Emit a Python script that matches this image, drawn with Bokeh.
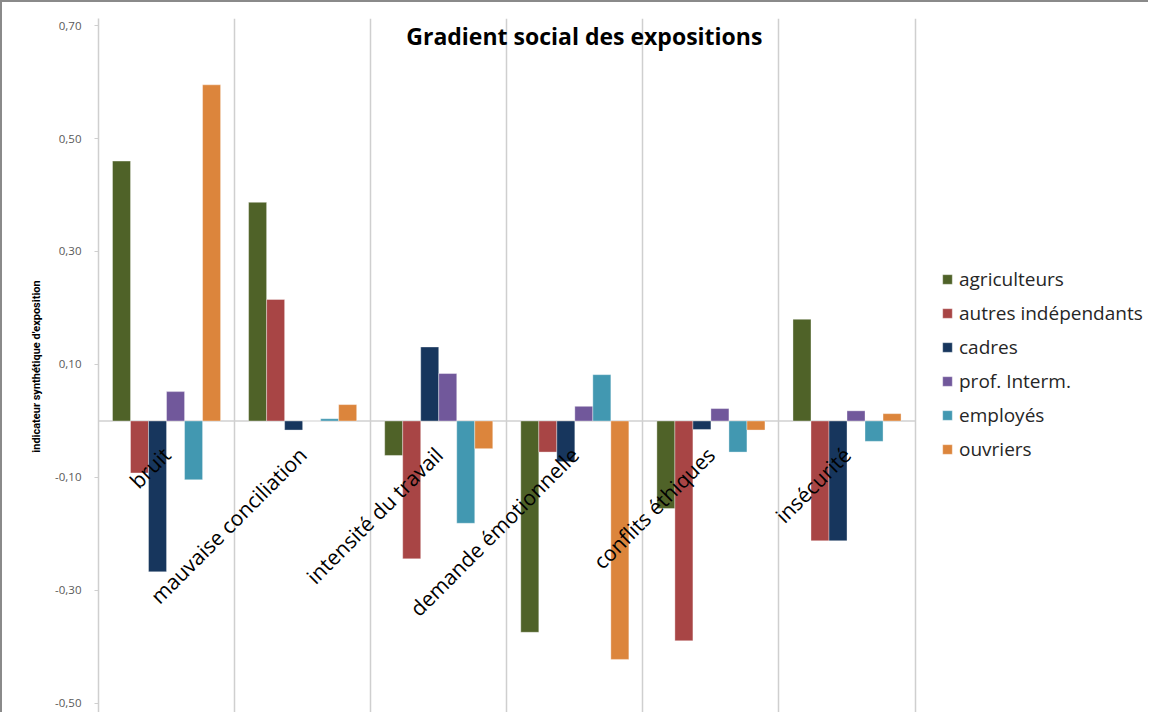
import math
from bokeh.plotting import figure
from bokeh.models import (ColumnDataSource, FixedTicker, Legend, LegendItem,
                          Label)
from bokeh.core.properties import value
from bokeh.embed import file_html
from bokeh.resources import INLINE

# ---- data ----
categories = ["bruit", "mauvaise conciliation", "intensité du travail",
              "demande émotionnelle", "conflits éthiques", "insécurité"]
series_names = ["agriculteurs", "autres indépendants", "cadres",
                "prof. Interm.", "employés", "ouvriers"]
agriculteurs = [0.460, 0.387, -0.061, -0.374, -0.155, 0.180]
autres_independants = [-0.092, 0.215, -0.244, -0.055, -0.389, -0.212]
cadres = [-0.267, -0.016, 0.131, -0.072, -0.015, -0.212]
prof_interm = [0.052, 0.000, 0.084, 0.026, 0.022, 0.018]
employes = [-0.104, 0.004, -0.181, 0.082, -0.055, -0.036]
ouvriers = [0.595, 0.029, -0.049, -0.422, -0.016, 0.013]
series_values = [agriculteurs, autres_independants, cadres, prof_interm,
                 employes, ouvriers]
colors = ["#4F6228", "#A84545", "#17365D", "#71589B", "#4298B1", "#DC853C"]
y_ticks = [-0.5, -0.3, -0.1, 0.1, 0.3, 0.5, 0.7]
y_tick_labels = {t: ("%.2f" % t).replace(".", ",") for t in y_ticks}

FONT = "Open Sans"
ncat = len(categories)

p = figure(width=1148, height=712, output_backend="svg", toolbar_location=None,
           x_range=(0, 7.73), y_range=(-0.5195, 0.7124),
           x_axis_location=None,
           min_border_left=96, min_border_right=0, min_border_top=16,
           min_border_bottom=0)
p.outline_line_color = None
p.background_fill_color = "white"
p.border_fill_color = "white"

# grid: vertical lines at category boundaries only
p.xgrid.ticker = FixedTicker(ticks=list(range(1, ncat + 1)))
p.xgrid.grid_line_color = "#cfcfcf"
p.xgrid.grid_line_width = 1.5
p.ygrid.grid_line_color = None

# y axis
p.yaxis.ticker = FixedTicker(ticks=y_ticks)
p.yaxis.major_label_overrides = y_tick_labels
p.yaxis.major_label_text_font = FONT
p.yaxis.major_label_text_font_size = "11.5px"
p.yaxis.major_label_text_color = "#595959"
p.yaxis.axis_line_color = "#cfcfcf"
p.yaxis.axis_line_width = 1.5
p.yaxis.major_tick_line_color = "#cfcfcf"
p.yaxis.major_tick_out = 4
p.yaxis.major_tick_in = 0
p.yaxis.minor_tick_line_color = None
p.yaxis.major_label_standoff = 13
p.yaxis.axis_label = "indicateur synthétique d'exposition"
p.yaxis.axis_label_text_font = "Roboto"
p.yaxis.axis_label_text_font_style = "bold"
p.yaxis.axis_label_text_font_size = "11px"
p.yaxis.axis_label_text_color = "black"
p.yaxis.axis_label_standoff = 9

# zero line across the categories
p.segment(x0=[0], x1=[ncat], y0=[0], y1=[0], line_color="#d0d0d0",
          line_width=1.5)

# bars
n = len(series_names)
bar_w = 108.0 / 136.0 / n
items = []
for j, (name, vals, col) in enumerate(zip(series_names, series_values, colors)):
    xs = [i + 0.5 + (j - (n - 1) / 2.0) * bar_w for i in range(ncat)]
    src = ColumnDataSource(dict(x=xs, top=vals))
    r = p.vbar(x="x", top="top", bottom=0, width=bar_w, source=src,
               fill_color=col, line_color="white", line_width=0.6,
               line_alpha=0.6)
    items.append(LegendItem(label=name, renderers=[r]))

# category labels (rotated, anchored under the zero line)
lab_src = ColumnDataSource(dict(x=[i + 0.5 for i in range(ncat)],
                                y=[0.0] * ncat, text=categories))
p.text(x="x", y="y", text="text", source=lab_src, angle=math.pi / 4,
       text_align="right", text_baseline="middle", y_offset=30, x_offset=0,
       text_font=value(FONT), text_font_size="21px", text_color="black")

# title inside the plot area
p.add_layout(Label(x=3.57, y=0.681, text="Gradient social des expositions",
                   text_align="center", text_baseline="middle",
                   text_font=FONT, text_font_style="bold",
                   text_font_size="23px", text_color="black"))

legend = Legend(items=items, location=(843, 252), glyph_width=12,
                glyph_height=12, label_text_font=FONT,
                label_text_font_size="19px", label_text_color="#262626",
                label_standoff=6, label_height=20, spacing=8, padding=0,
                margin=0, border_line_color=None, background_fill_alpha=0)
p.add_layout(legend)

p.styles = {"border-top": "2px solid #8a8a8a", "border-left": "2px solid #8a8a8a"}

open("out.html", "w").write(file_html(p, INLINE))
